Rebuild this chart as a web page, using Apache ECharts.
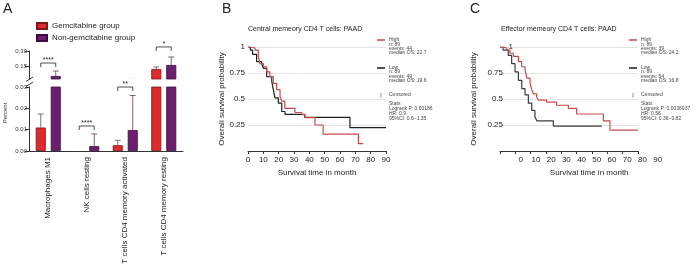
<!DOCTYPE html>
<html><head><meta charset="utf-8">
<script src="https://cdn.jsdelivr.net/npm/echarts@6.0.0/dist/echarts.min.js"></script>
<style>html,body{margin:0;padding:0;background:#fff}#c{width:696px;height:272px}</style>
</head><body><div id="c"></div>
<script>
// ---- Panel A data ----
const categories = ['Macrophages M1', 'NK cells resting', 'T cells CD4 memory activated', 'T cells CD4 memory resting'];
const gemMean = [0.011, 0, 0.0027, 0.126];
const gemSD   = [0.0063, 0, 0.0023, 0.020];
const nonMean = [0.059, 0.0023, 0.0098, 0.165];
const nonSD   = [0.048, 0.0057, 0.0162, 0.077];
const sigLabels = ['****', '****', '**', '*'];
const sigLevels = [0.184, 0.0117, 0.030, 0.339];
const sigPanel  = ['upper', 'lower', 'lower', 'upper'];
const breakValue = 0.03;
const upperMax = 0.30;
const upperTicks = [0.15, 0.30];
const lowerTickStep = 0.01;

// ---- Panel B data (Central memory CD4 T cells) ----
const bHighT = [0, 2, 4.6, 6.7, 7.8, 10, 12.2, 14.3, 16.5, 18.7, 20.9, 22, 24, 30.6, 35, 37, 43.7, 49, 72, 75];
const bHighS = [1, 0.99, 0.97, 0.91, 0.84, 0.81, 0.76, 0.715, 0.65, 0.59, 0.52, 0.48, 0.41, 0.37, 0.35, 0.32, 0.25, 0.163, 0.07, 0.07];
const bLowT  = [0, 1.5, 3, 5.6, 8.9, 10, 12.2, 15.5, 16.5, 17.6, 19.8, 22, 24.1, 37, 66.5, 90];
const bLowS  = [1, 0.97, 0.93, 0.86, 0.84, 0.795, 0.715, 0.67, 0.59, 0.51, 0.46, 0.38, 0.353, 0.323, 0.224, 0.224];
const bHighInfo = ['High', 'n: 89', 'events: 44', 'median OS: 22.7'];
const bLowInfo  = ['Low', 'n: 89', 'events: 49', 'median OS: 19.6'];
const bStats    = ['Stats', 'Logrank P: 0.60186', 'HR: 0.9', '95%CI: 0.6\u22121.35'];

// ---- Panel C data (Effector memory CD4 T cells) ----
const cHighT = [0, 2, 4.4, 6.5, 8.7, 12, 14.1, 16.3, 17.4, 19.6, 20.7, 21.7, 23.9, 25, 30.4, 36.9, 44.6, 50, 67.4, 71.7, 90];
const cHighS = [1, 0.99, 0.97, 0.94, 0.91, 0.86, 0.81, 0.79, 0.70, 0.65, 0.59, 0.55, 0.52, 0.49, 0.47, 0.44, 0.41, 0.356, 0.29, 0.20, 0.20];
const cLowT  = [0, 2, 5.4, 7.6, 9.8, 12, 14.2, 16.3, 18.5, 20.7, 22.8, 24, 34.8, 66.3];
const cLowS  = [1, 0.97, 0.92, 0.84, 0.76, 0.68, 0.60, 0.54, 0.46, 0.39, 0.33, 0.29, 0.24, 0.24];
const cHighInfo = ['High', 'n: 89', 'events: 39', 'median OS: 24.2'];
const cLowInfo  = ['Low', 'n: 89', 'events: 54', 'median OS: 16.8'];
const cStats    = ['Stats', 'Logrank P: 0.0036937', 'HR: 0.56', '95%CI: 0.36\u22120.82'];

// ---- styles ----
const FONT = 'Liberation Sans, Arial, Helvetica, sans-serif';
const RED_BAR = '#de2a2c', RED_EDGE = '#7d1417';
const PUR_BAR = '#6c1f6e', PUR_EDGE = '#3a0c3c';
const KM_RED = '#c94a4a', KM_BLK = '#1e1e1e', KM_BLK_C = '#3c3c3c';
const AX = '#333';
const HALF = 7.5;

const zip = (a, b) => a.map((v, i) => [v, b[i]]);
const barData = (arr, keep) => arr.map(v => keep(v) ? { value: v, itemStyle: v === 0 ? { borderWidth: 0 } : {} } : '-');

function errSeries(xi, yi, means, sds, off, color) {
  return {
    type: 'custom', xAxisIndex: xi, yAxisIndex: yi, clip: true, silent: true, z: 3,
    data: means.map((m, i) => [i, m, m + sds[i]]),
    encode: { x: 0, y: [1, 2] },
    renderItem: (params, api) => {
      const lo = api.value(1), hi = api.value(2);
      if (!(hi > lo)) return null;
      const c0 = api.coord([api.value(0), lo]);
      const c1 = api.coord([api.value(0), hi]);
      const x = c0[0] + off;
      const st = { stroke: color, lineWidth: 0.8 };
      return { type: 'group', children: [
        { type: 'line', shape: { x1: x, y1: c0[1], x2: x, y2: c1[1] }, style: st },
        { type: 'line', shape: { x1: x - 3, y1: c1[1], x2: x + 3, y2: c1[1] }, style: st }
      ]};
    }
  };
}
function sigSeries(xi, yi, panel) {
  const data = [];
  sigLevels.forEach((lv, i) => { if (sigPanel[i] === panel) data.push([i, lv]); });
  return {
    type: 'custom', xAxisIndex: xi, yAxisIndex: yi, clip: false, silent: true, z: 4,
    data: data, encode: { x: 0, y: 1 },
    renderItem: (params, api) => {
      const i = api.value(0);
      const c = api.coord([i, api.value(1)]);
      const xl = c[0] - HALF, xr = c[0] + HALF, y = c[1];
      return { type: 'group', children: [
        { type: 'polyline', shape: { points: [[xl, y + 4], [xl, y], [xr, y], [xr, y + 4]] }, style: { stroke: '#222', lineWidth: 0.8, fill: null } },
        { type: 'text', style: { text: sigLabels[i], x: c[0], y: y - 2.5, align: 'center', verticalAlign: 'middle', fontSize: 7, fontFamily: FONT, fill: '#222' } }
      ]};
    }
  };
}
function kmLegend(x0, high, low, stats) {
  const els = [];
  const txt = (t, x, y) => ({ type: 'text', x: x, y: y, silent: true, style: { text: t, fontSize: 5, fontFamily: FONT, fill: '#444', verticalAlign: 'middle' } });
  els.push({ type: 'line', silent: true, shape: { x1: x0, y1: 40, x2: x0 + 8, y2: 40 }, style: { stroke: KM_RED, lineWidth: 1.5 } });
  high.forEach((t, i) => els.push(txt(t, x0 + 12, 40 + i * 4.3)));
  els.push({ type: 'line', silent: true, shape: { x1: x0, y1: 68, x2: x0 + 8, y2: 68 }, style: { stroke: KM_BLK, lineWidth: 1.5 } });
  low.forEach((t, i) => els.push(txt(t, x0 + 12, 67.7 + i * 4.3)));
  els.push({ type: 'line', silent: true, shape: { x1: x0 + 4, y1: 93, x2: x0 + 4, y2: 97.5 }, style: { stroke: '#777', lineWidth: 0.8 } });
  els.push(txt('Censored', x0 + 12, 95));
  stats.forEach((t, i) => els.push(txt(t, x0 + 12, 104 + i * 5)));
  return els;
}

const kmYAxis = (gi, extra) => Object.assign({
  gridIndex: gi, type: 'value', min: 0, max: 1, interval: 0.25, position: 'left',
  axisLine: { show: false }, axisTick: { show: false },
  axisLabel: { fontSize: 8, color: '#222', margin: 3, fontFamily: FONT, formatter: v => v === 0 ? '' : String(v) },
  splitLine: { show: true, lineStyle: { color: '#dcdcdc', width: 0.8 } },
  name: 'Overall survival probability', nameLocation: 'middle', nameGap: 20,
  nameTextStyle: { fontSize: 8, color: '#222', fontFamily: FONT }
}, extra || {});
const kmXAxis = (gi, extra) => Object.assign({
  gridIndex: gi, type: 'value', min: 0, max: 90, interval: 10,
  axisLine: { show: true, lineStyle: { color: AX, width: 1 } },
  axisTick: { show: true, length: 3, lineStyle: { color: AX } },
  axisLabel: { fontSize: 8, color: '#222', margin: 5, fontFamily: FONT },
  splitLine: { show: false },
  name: 'Survival time in month', nameLocation: 'middle', nameGap: 18,
  nameTextStyle: { fontSize: 8, color: '#222', fontFamily: FONT }
}, extra || {});

const option = {
  animation: false,
  textStyle: { fontFamily: FONT },
  title: [
    { text: 'A', left: 3, top: 2, padding: 0, textStyle: { fontSize: 14, fontWeight: 'normal', color: '#222', fontFamily: FONT } },
    { text: 'B', left: 222, top: 2, padding: 0, textStyle: { fontSize: 14, fontWeight: 'normal', color: '#222', fontFamily: FONT } },
    { text: 'C', left: 470, top: 2, padding: 0, textStyle: { fontSize: 14, fontWeight: 'normal', color: '#222', fontFamily: FONT } },
    { text: 'Central memeory CD4 T cells: PAAD', left: 248, top: 26, padding: 0, textStyle: { fontSize: 7, fontWeight: 'normal', color: '#222', fontFamily: FONT } },
    { text: 'Effector memeory CD4 T cells: PAAD', left: 501, top: 26, padding: 0, textStyle: { fontSize: 7, fontWeight: 'normal', color: '#222', fontFamily: FONT } }
  ],
  legend: {
    data: ['Gemcitabine group', 'Non-gemcitabine group'],
    orient: 'vertical', left: 36, top: 22, padding: 0,
    itemWidth: 10, itemHeight: 6, itemGap: 4, icon: 'rect',
    textStyle: { fontSize: 8, color: '#222', fontFamily: FONT }
  },
  grid: [
    { left: 29, top: 51, width: 154, height: 28 },
    { left: 29, top: 87, width: 154, height: 64 },
    { left: 248, top: 47, width: 138, height: 104 },
    { left: 500, top: 47, width: 138, height: 104 },
    { left: 520.7, top: 47, width: 137, height: 104 }
  ],
  xAxis: [
    { gridIndex: 0, type: 'category', data: categories, show: false },
    { gridIndex: 1, type: 'category', data: categories,
      axisLine: { lineStyle: { color: AX, width: 1 } },
      axisTick: { alignWithLabel: true, length: 3, lineStyle: { color: AX } },
      axisLabel: { rotate: 90, fontSize: 8, color: '#222', margin: 6, interval: 0, fontFamily: FONT } },
    kmXAxis(2),
    kmXAxis(3, { axisLabel: { show: false }, name: '' }),
    kmXAxis(4, { axisLine: { show: false }, axisTick: { show: false } })
  ],
  yAxis: [
    { gridIndex: 0, type: 'value', min: breakValue, max: upperMax,
      axisLine: { show: true, lineStyle: { color: AX, width: 1 } },
      axisTick: { show: true, length: 4, customValues: upperTicks, lineStyle: { color: AX } },
      axisLabel: { customValues: upperTicks, fontSize: 6, color: '#333', margin: 2, formatter: v => v.toFixed(2) },
      splitLine: { show: false } },
    { gridIndex: 1, type: 'value', min: 0, max: breakValue, interval: lowerTickStep,
      axisLine: { show: true, lineStyle: { color: AX, width: 1 } },
      axisTick: { show: true, length: 4, lineStyle: { color: AX } },
      axisLabel: { fontSize: 6, color: '#333', margin: 2, formatter: v => v.toFixed(2) },
      splitLine: { show: false } },
    kmYAxis(2),
    kmYAxis(3, { offset: -6, nameGap: 28, axisLabel: { fontSize: 8, color: '#222', margin: 3, fontFamily: FONT, formatter: v => (v === 0 || v === 1) ? '' : String(v) } }),
    kmYAxis(3, { position: 'left', offset: -16, name: '', splitLine: { show: false }, axisLabel: { fontSize: 8, color: '#222', margin: 3, fontFamily: FONT, formatter: v => v === 1 ? '1' : '' } }),
    { gridIndex: 4, type: 'value', min: 0, max: 1, show: false, splitLine: { show: false } }
  ],
  series: [
    { name: 'Gemcitabine group', type: 'bar', xAxisIndex: 0, yAxisIndex: 0, clip: true, barWidth: 10, barGap: '50%',
      data: barData(gemMean, v => v > breakValue), itemStyle: { color: RED_BAR, borderColor: RED_EDGE, borderWidth: 0.8 } },
    { name: 'Non-gemcitabine group', type: 'bar', xAxisIndex: 0, yAxisIndex: 0, clip: true, barWidth: 10, barGap: '50%',
      data: barData(nonMean, v => v > breakValue), itemStyle: { color: PUR_BAR, borderColor: PUR_EDGE, borderWidth: 0.8 } },
    { name: 'Gemcitabine group', type: 'bar', xAxisIndex: 1, yAxisIndex: 1, clip: true, barWidth: 10, barGap: '50%',
      data: barData(gemMean, () => true), itemStyle: { color: RED_BAR, borderColor: RED_EDGE, borderWidth: 0.8 } },
    { name: 'Non-gemcitabine group', type: 'bar', xAxisIndex: 1, yAxisIndex: 1, clip: true, barWidth: 10, barGap: '50%',
      data: barData(nonMean, () => true), itemStyle: { color: PUR_BAR, borderColor: PUR_EDGE, borderWidth: 0.8 } },
    errSeries(0, 0, gemMean, gemSD, -HALF, '#555'),
    errSeries(0, 0, nonMean, nonSD, HALF, '#5e3a60'),
    errSeries(1, 1, gemMean, gemSD, -HALF, '#555'),
    errSeries(1, 1, nonMean, nonSD, HALF, '#5e3a60'),
    sigSeries(0, 0, 'upper'),
    sigSeries(1, 1, 'lower'),
    { name: 'B High', type: 'line', xAxisIndex: 2, yAxisIndex: 2, step: 'end', showSymbol: false, silent: true,
      data: zip(bHighT, bHighS), lineStyle: { color: KM_RED, width: 1.2 }, z: 3 },
    { name: 'B Low', type: 'line', xAxisIndex: 2, yAxisIndex: 2, step: 'end', showSymbol: false, silent: true,
      data: zip(bLowT, bLowS), lineStyle: { color: KM_BLK, width: 1.2 }, z: 2 },
    { name: 'C High', type: 'line', xAxisIndex: 3, yAxisIndex: 3, step: 'end', showSymbol: false, silent: true,
      data: zip(cHighT, cHighS), lineStyle: { color: KM_RED, width: 1.2 }, z: 3 },
    { name: 'C Low', type: 'line', xAxisIndex: 3, yAxisIndex: 3, step: 'end', showSymbol: false, silent: true,
      data: zip(cLowT, cLowS), lineStyle: { color: KM_BLK_C, width: 1.2 }, z: 2 }
  ],
  graphic: [
    { type: 'text', x: 5, y: 113, rotation: Math.PI / 2, silent: true,
      style: { text: 'Percent', fontSize: 6, fontFamily: FONT, fill: '#333', align: 'center', verticalAlign: 'middle' } },
    { type: 'line', silent: true, shape: { x1: 26, y1: 81.5, x2: 33, y2: 77 }, style: { stroke: AX, lineWidth: 1 } },
    { type: 'line', silent: true, shape: { x1: 26, y1: 86.5, x2: 33, y2: 82 }, style: { stroke: AX, lineWidth: 1 } }
  ].concat(kmLegend(377, bHighInfo, bLowInfo, bStats), kmLegend(629, cHighInfo, cLowInfo, cStats))
};

const chart = echarts.init(document.getElementById('c'), null, { renderer: 'canvas', width: 696, height: 272 });
chart.setOption(option);
</script>
</body></html>
